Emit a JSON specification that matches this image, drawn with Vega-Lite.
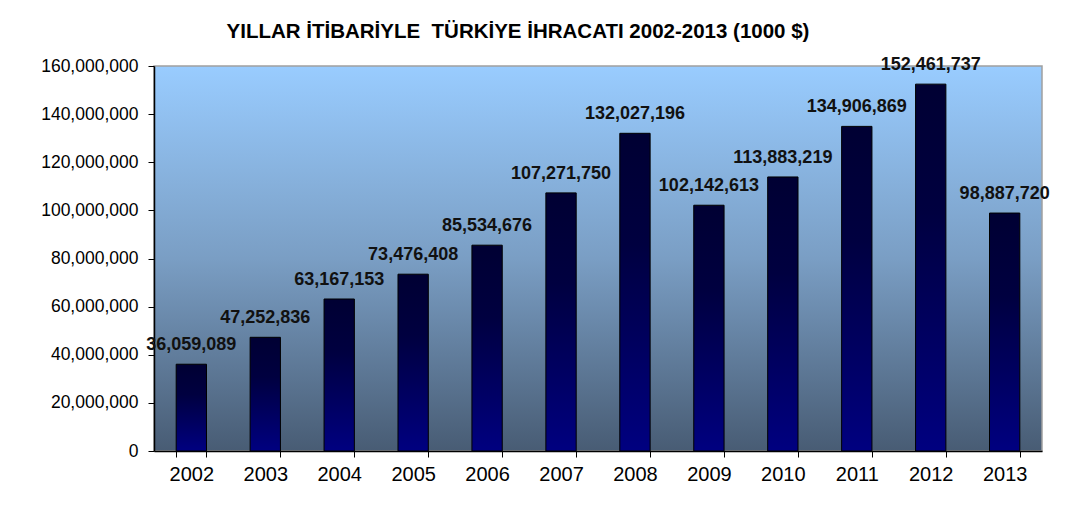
{
  "$schema": "https://vega.github.io/schema/vega-lite/v6.json",
  "width": 888,
  "height": 385,
  "autosize": {"type": "none"},
  "padding": {"left": 154, "top": 66, "right": 27, "bottom": 60},
  "background": "white",
  "title": {
    "text": "YILLAR İTİBARİYLE\u00a0\u00a0TÜRKİYE İHRACATI 2002-2013 (1000 $)",
    "font": "Liberation Sans",
    "fontSize": 20.5,
    "fontWeight": "bold",
    "color": "#000000",
    "anchor": "middle",
    "dx": -80,
    "offset": 14
  },
  "data": {
    "values": [
      {"year": "2002", "value": 36059089},
      {"year": "2003", "value": 47252836},
      {"year": "2004", "value": 63167153},
      {"year": "2005", "value": 73476408},
      {"year": "2006", "value": 85534676},
      {"year": "2007", "value": 107271750},
      {"year": "2008", "value": 132027196},
      {"year": "2009", "value": 102142613},
      {"year": "2010", "value": 113883219},
      {"year": "2011", "value": 134906869},
      {"year": "2012", "value": 152461737},
      {"year": "2013", "value": 98887720}
    ]
  },
  "encoding": {
    "x": {
      "field": "year",
      "type": "ordinal",
      "title": null,
      "scale": {"paddingInner": 0.59, "paddingOuter": 0.3},
      "axis": {
        "labelAngle": 0,
        "labelFont": "Liberation Sans",
        "labelFontSize": 20,
        "labelColor": "#000000",
        "labelPadding": 7,
        "tickBand": "extent",
        "tickColor": "#000000",
        "tickSize": 6,
        "domainColor": "#000000",
        "domainWidth": 1.5
      }
    },
    "y": {
      "field": "value",
      "type": "quantitative",
      "title": null,
      "scale": {"domain": [0, 160000000], "nice": false},
      "axis": {
        "values": [0, 20000000, 40000000, 60000000, 80000000, 100000000, 120000000, 140000000, 160000000],
        "format": ",d",
        "grid": false,
        "labelFont": "Liberation Sans",
        "labelFontSize": 17.5,
        "labelColor": "#000000",
        "labelPadding": 10,
        "tickColor": "#000000",
        "tickSize": 6,
        "domainColor": "#000000",
        "domainWidth": 1.5
      }
    }
  },
  "layer": [
    {
      "mark": {
        "type": "bar",
        "stroke": "#000000",
        "strokeWidth": 1,
        "fill": {
          "gradient": "linear",
          "x1": 0, "y1": 0, "x2": 0, "y2": 1,
          "stops": [
            {"offset": 0, "color": "#000033"},
            {"offset": 0.35, "color": "#000040"},
            {"offset": 1, "color": "#000080"}
          ]
        }
      }
    },
    {
      "mark": {
        "type": "text",
        "font": "Liberation Sans",
        "fontSize": 18,
        "fontWeight": "bold",
        "color": "#111111",
        "baseline": "middle",
        "dy": -19
      },
      "encoding": {
        "text": {"field": "value", "type": "quantitative", "format": ",d"}
      }
    }
  ],
  "config": {
    "view": {
      "stroke": "#A0A0A0",
      "strokeWidth": 1.5,
      "fill": {
        "gradient": "linear",
        "x1": 0, "y1": 0, "x2": 0, "y2": 1,
        "stops": [
          {"offset": 0, "color": "#99CCFF"},
          {"offset": 0.5, "color": "#7A9EC4"},
          {"offset": 1, "color": "#485C74"}
        ]
      }
    }
  }
}
